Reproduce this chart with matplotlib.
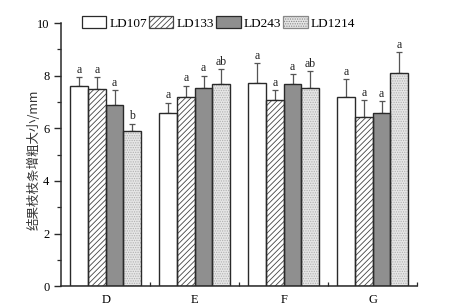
import numpy as np
import matplotlib.pyplot as plt
from matplotlib.ticker import MultipleLocator, FixedLocator

plt.rcParams['font.family'] = ['Liberation Serif', 'Noto Sans CJK SC']
plt.rcParams['hatch.linewidth'] = 0.6

groups = ["D", "E", "F", "G"]
series = ["LD107", "LD133", "LD243", "LD1214"]
values = [
    [7.6, 6.6, 7.74, 7.2],
    [7.48, 7.2, 7.06, 6.44],
    [6.9, 7.52, 7.68, 6.6],
    [5.9, 7.68, 7.55, 8.1],
]
errors = [
    [0.35, 0.38, 0.73, 0.67],
    [0.47, 0.42, 0.39, 0.64],
    [0.55, 0.48, 0.38, 0.43],
    [0.28, 0.56, 0.62, 0.79],
]
letters = [
    ["a", "a", "a", "a"],
    ["a", "a", "a", "a"],
    ["a", "a", "a", "a"],
    ["b", "ab", "ab", "a"],
]

faces = ["white", "white", "#8f8f8f", "#e6e6e6"]
hatches = [None, "//////", None, "......."]
hatch_cols = ["#333333", "#444444", "#333333", "#b0b0b0"]

fig = plt.figure(figsize=(4.5, 3.08), dpi=100)
ax = fig.add_axes([0.136, 0.071, 0.791, 0.854])

x = np.arange(len(groups))
w = 0.2
edge = "#2a2a2a"
for i, name in enumerate(series):
    pos = x + (i - 1.5) * w
    b = ax.bar(pos, values[i], w, color=faces[i], edgecolor=hatch_cols[i],
               hatch=hatches[i], linewidth=0, label=name, zorder=2)
    ax.bar(pos, values[i], w, color="none", edgecolor=edge, linewidth=1.0, zorder=3)
    ax.errorbar(pos, values[i], yerr=[np.zeros(4), errors[i]], fmt="none",
                ecolor="#555555", elinewidth=0.9, capsize=2.5, capthick=0.9, zorder=1)
    for px, v, e, t in zip(pos, values[i], errors[i], letters[i]):
        ax.text(px, v + e + 0.05, t, ha="center", va="bottom", fontsize=8.5, color="#222222")

ax.set_xlim(-0.5, 3.5)
ax.set_ylim(0, 10)
ax.set_xticks(x)
ax.set_xticklabels(groups, fontsize=9)
ax.tick_params(axis="x", length=0, pad=6)
ax.xaxis.set_minor_locator(FixedLocator([0.5, 1.5, 2.5, 3.5]))
ax.tick_params(axis="x", which="minor", direction="in", length=3, width=0.9, color=edge)
ax.yaxis.set_major_locator(MultipleLocator(2))
ax.yaxis.set_minor_locator(MultipleLocator(1))
ax.tick_params(axis="y", which="major", direction="out", length=5, width=1, labelsize=9, color=edge)
ax.tick_params(axis="y", which="minor", direction="out", length=3, width=0.9, color=edge)
for s in ["top", "right"]:
    ax.spines[s].set_visible(False)
for s in ["left", "bottom"]:
    ax.spines[s].set_linewidth(1.1)
    ax.spines[s].set_color(edge)

ax.set_ylabel("结果枝枝条增粗大小/mm", fontsize=9, family=["Noto Sans CJK SC"], color="#333333")
ax.yaxis.set_label_coords(-0.058, 0.48)

handles, labels = ax.get_legend_handles_labels()
leg = ax.legend(handles, labels, ncol=4, loc="center", bbox_to_anchor=(0.442, 1.0),
                frameon=False, fontsize=9.5, handlelength=1.85, handleheight=0.95,
                columnspacing=0.15, handletextpad=0.25, borderaxespad=0)
for p in leg.get_patches():
    p.set_edgecolor(edge)
    p.set_linewidth(0.9)
leg.get_patches()[1].set_edgecolor("#444444")
leg.get_patches()[3].set_edgecolor("#888888")

fig.savefig("out.png", dpi=100)
